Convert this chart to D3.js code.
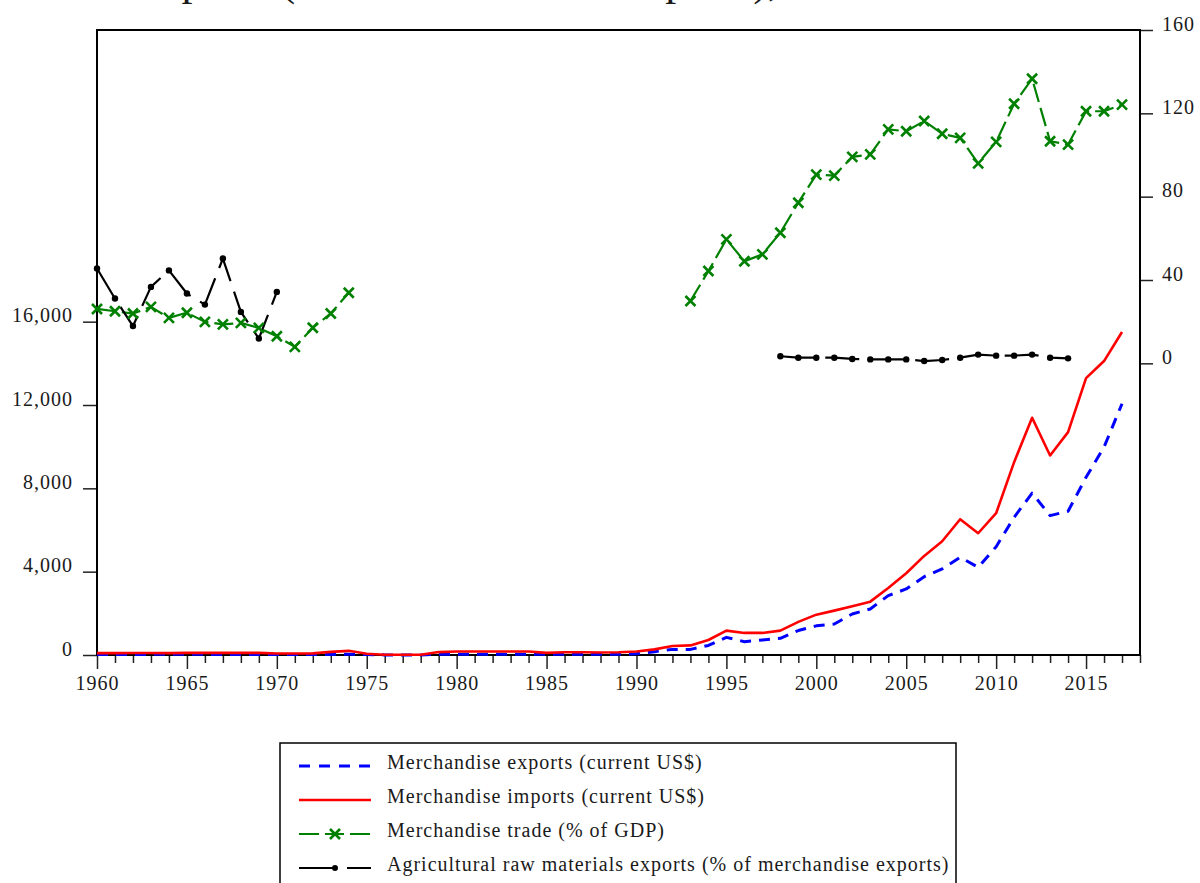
<!DOCTYPE html>
<html>
<head>
<meta charset="utf-8">
<script src="https://cdn.jsdelivr.net/npm/d3@7/dist/d3.min.js"></script>
<style>
  body { margin: 0; background: #fff; }
  svg { display: block; font-family: "Liberation Serif", "DejaVu Serif", serif; }
  .lbl { font-size: 20px; letter-spacing: 1px; fill: #1a1a1a; }
</style>
</head>
<body>
<div id="chart"></div>
<script>
// years 1960..2017
const years = d3.range(1960, 2018);

// Merchandise exports (current US$), left axis
const exportsUsd = [
  30, 30, 30, 30, 40, 40, 30, 30, 30, 30,
  30, 30, 30, 30, 40, 20, 5, 5, 5, 30,
  40, 40, 40, 40, 40, 30, 40, 40, 40, 40,
  60, 160, 270, 270, 460, 846, 640, 720, 800, 1175,
  1400, 1490, 1970, 2210, 2850, 3170, 3760, 4130, 4690, 4210,
  5200, 6610, 7770, 6690, 6900, 8530, 9980, 12060
];

// Merchandise imports (current US$), left axis
const importsUsd = [
  90, 90, 95, 95, 90, 100, 100, 100, 110, 100,
  70, 70, 80, 150, 200, 60, 10, 10, 10, 140,
  170, 170, 170, 170, 170, 100, 130, 130, 120, 130,
  170, 270, 430, 460, 720, 1170, 1060, 1060, 1170, 1590,
  1937, 2130, 2336, 2561, 3219, 3922, 4757, 5460, 6517, 5844,
  6806, 9257, 11389, 9577, 10697, 13292, 14109, 15502
];

// Merchandise trade (% of GDP), right axis
const tradePct = [
  26.1, 25.0, 23.9, 27.1, 21.8, 24.3, 19.9, 18.7, 19.4, 17.0,
  13.0, 7.9, 17.1, 23.9, 33.9, null, null, null, null, null,
  null, null, null, null, null, null, null, null, null, null,
  null, null, null, 29.9, 44.3, 59.5, 49.0, 52.3, 62.7, 77.1,
  90.6, 90.1, 99.1, 100.3, 112.3, 111.4, 116.3, 110.2, 108.2, 96.0,
  106.3, 124.6, 136.6, 106.6, 105.0, 121.0, 121.0, 124.2
];

// Agricultural raw materials exports (% of merchandise exports), right axis
const agriPct = [
  45.5, 31.1, 17.9, 36.7, 44.6, 33.5, 28.2, 50.3, 24.7, 11.9,
  34.3, null, null, null, null, null, null, null, null, null,
  null, null, null, null, null, null, null, null, null, null,
  null, null, null, null, null, null, null, null, 3.4, 2.7,
  2.7, 2.7, 2.1, 1.9, 1.9, 1.9, 1.1, 1.6, 2.7, 4.2,
  3.7, 3.7, 4.2, 2.7, 2.4, null, null, null
];

const leftTicks = [0, 4000, 8000, 12000, 16000];
const rightTicks = [0, 40, 80, 120, 160];

const seriesNames = [
  "Merchandise exports (current US$)",
  "Merchandise imports (current US$)",
  "Merchandise trade (% of GDP)",
  "Agricultural raw materials exports (% of merchandise exports)"
];

const W = 1200, H = 883;
const plot = {left: 97, right: 1140, top: 30, bottom: 655};

const svg = d3.select('#chart').append('svg')
  .attr('width', W).attr('height', H);
svg.append('rect').attr('width', W).attr('height', H).attr('fill', '#fff');

// heading above the frame, cut by the top edge like in the original
const heading = 'Agricultural raw materials exports (% of merchandise exports),';
const head = svg.append('text')
  .attr('y', -5)
  .attr('fill', '#1a1a1a')
  .style('font-size', '44px')
  .text(heading);
const skip = head.node().getSubStringLength(0, heading.indexOf('exports'));
head.attr('x', 140 - skip);

const x = d3.scaleLinear().domain([1960, 2018]).range([plot.left, plot.right]);
const yL = d3.scaleLinear().domain([0, 30000]).range([plot.bottom, plot.top]);
const yR = d3.scaleLinear().domain([-140, 160]).range([plot.bottom, plot.top]);

// axes
const fmt = d3.format(',');
const axL = svg.append('g').attr('transform', `translate(${plot.left},0)`)
  .call(d3.axisLeft(yL).tickValues(leftTicks).tickFormat(fmt).tickSize(14).tickPadding(10));
const axR = svg.append('g').attr('transform', `translate(${plot.right},0)`)
  .call(d3.axisRight(yR).tickValues(rightTicks).tickSize(13).tickPadding(9));
const axB = svg.append('g').attr('transform', `translate(0,${plot.bottom})`)
  .call(d3.axisBottom(x).tickValues(d3.range(1960, 2019))
    .tickFormat(d => (d % 5 === 0 && d < 2018) ? d : '')
    .tickSize(8).tickPadding(14));

[axL, axR, axB].forEach(g => {
  g.select('.domain').remove();
  g.selectAll('.tick line').attr('stroke', '#222').attr('stroke-width', 1.5);
  g.selectAll('.tick text').attr('class', 'lbl').attr('fill', '#1a1a1a')
    .style('font-family', '"Liberation Serif", serif');
});
axL.selectAll('.tick text').attr('dy', '0').attr('y', 0);
axR.selectAll('.tick text').attr('dy', '0').attr('y', 0);
axB.selectAll('.tick').filter(d => d % 5 === 0).select('line').attr('y2', 14);
axB.selectAll('.tick text').attr('dy', '0').attr('y', 35);

// frame
svg.append('rect')
  .attr('x', plot.left).attr('y', plot.top)
  .attr('width', plot.right - plot.left).attr('height', plot.bottom - plot.top)
  .attr('fill', 'none').attr('stroke', '#000').attr('stroke-width', 2);

const styles = [
  {color: '#0000ff', width: 3, dash: '11,8'},
  {color: '#ff0000', width: 2.6, dash: null},
  {color: '#008000', width: 2.2, dash: '19,6'},
  {color: '#000000', width: 2.2, dash: '34,11'}
];

function drawLine(vals, yScale, st) {
  const pts = years.map((yr, i) => ({yr, v: vals[i]}));
  const line = d3.line().defined(d => d.v != null)
    .x(d => x(d.yr)).y(d => yScale(d.v));
  const p = svg.append('path').datum(pts)
    .attr('fill', 'none').attr('stroke', st.color)
    .attr('stroke-width', st.width).attr('stroke-linejoin', 'round');
  if (st.dash) p.attr('stroke-dasharray', st.dash);
  p.attr('d', line);
  return pts.filter(d => d.v != null);
}

function crossMark(g, cx, cy, color) {
  const s = 5;
  g.append('path')
    .attr('d', `M${cx - s},${cy - s}L${cx + s},${cy + s}M${cx - s},${cy + s}L${cx + s},${cy - s}`)
    .attr('stroke', color).attr('stroke-width', 2.6).attr('fill', 'none');
}

drawLine(exportsUsd, yL, styles[0]);
drawLine(importsUsd, yL, styles[1]);
const tradePts = drawLine(tradePct, yR, styles[2]);
const agriPts = drawLine(agriPct, yR, styles[3]);

const mk = svg.append('g');
tradePts.forEach(d => crossMark(mk, x(d.yr), yR(d.v), styles[2].color));
mk.selectAll('circle.agri').data(agriPts).join('circle')
  .attr('class', 'agri')
  .attr('cx', d => x(d.yr)).attr('cy', d => yR(d.v))
  .attr('r', 3.2).attr('fill', '#000');

// legend
const lg = svg.append('g');
lg.append('rect').attr('x', 280).attr('y', 743).attr('width', 676).attr('height', 160)
  .attr('fill', '#fff').attr('stroke', '#000').attr('stroke-width', 1.5);
seriesNames.forEach((name, i) => {
  const ly = 766 + i * 34;
  const st = styles[i];
  const l = lg.append('line').attr('x1', 299).attr('x2', 371).attr('y1', ly).attr('y2', ly)
    .attr('stroke', st.color).attr('stroke-width', st.width);
  if (i === 0) l.attr('stroke-dasharray', '11,9');
  if (i === 2) l.attr('stroke-dasharray', '20,6,19,6');
  if (i === 3) l.attr('stroke-dasharray', '36,12');
  if (i === 2) crossMark(lg, 335, ly, st.color);
  if (i === 3) lg.append('circle').attr('cx', 335).attr('cy', ly).attr('r', 3).attr('fill', '#000');
  lg.append('text').attr('class', 'lbl').attr('x', 387).attr('y', ly + 3).text(name);
});
</script>
</body>
</html>
